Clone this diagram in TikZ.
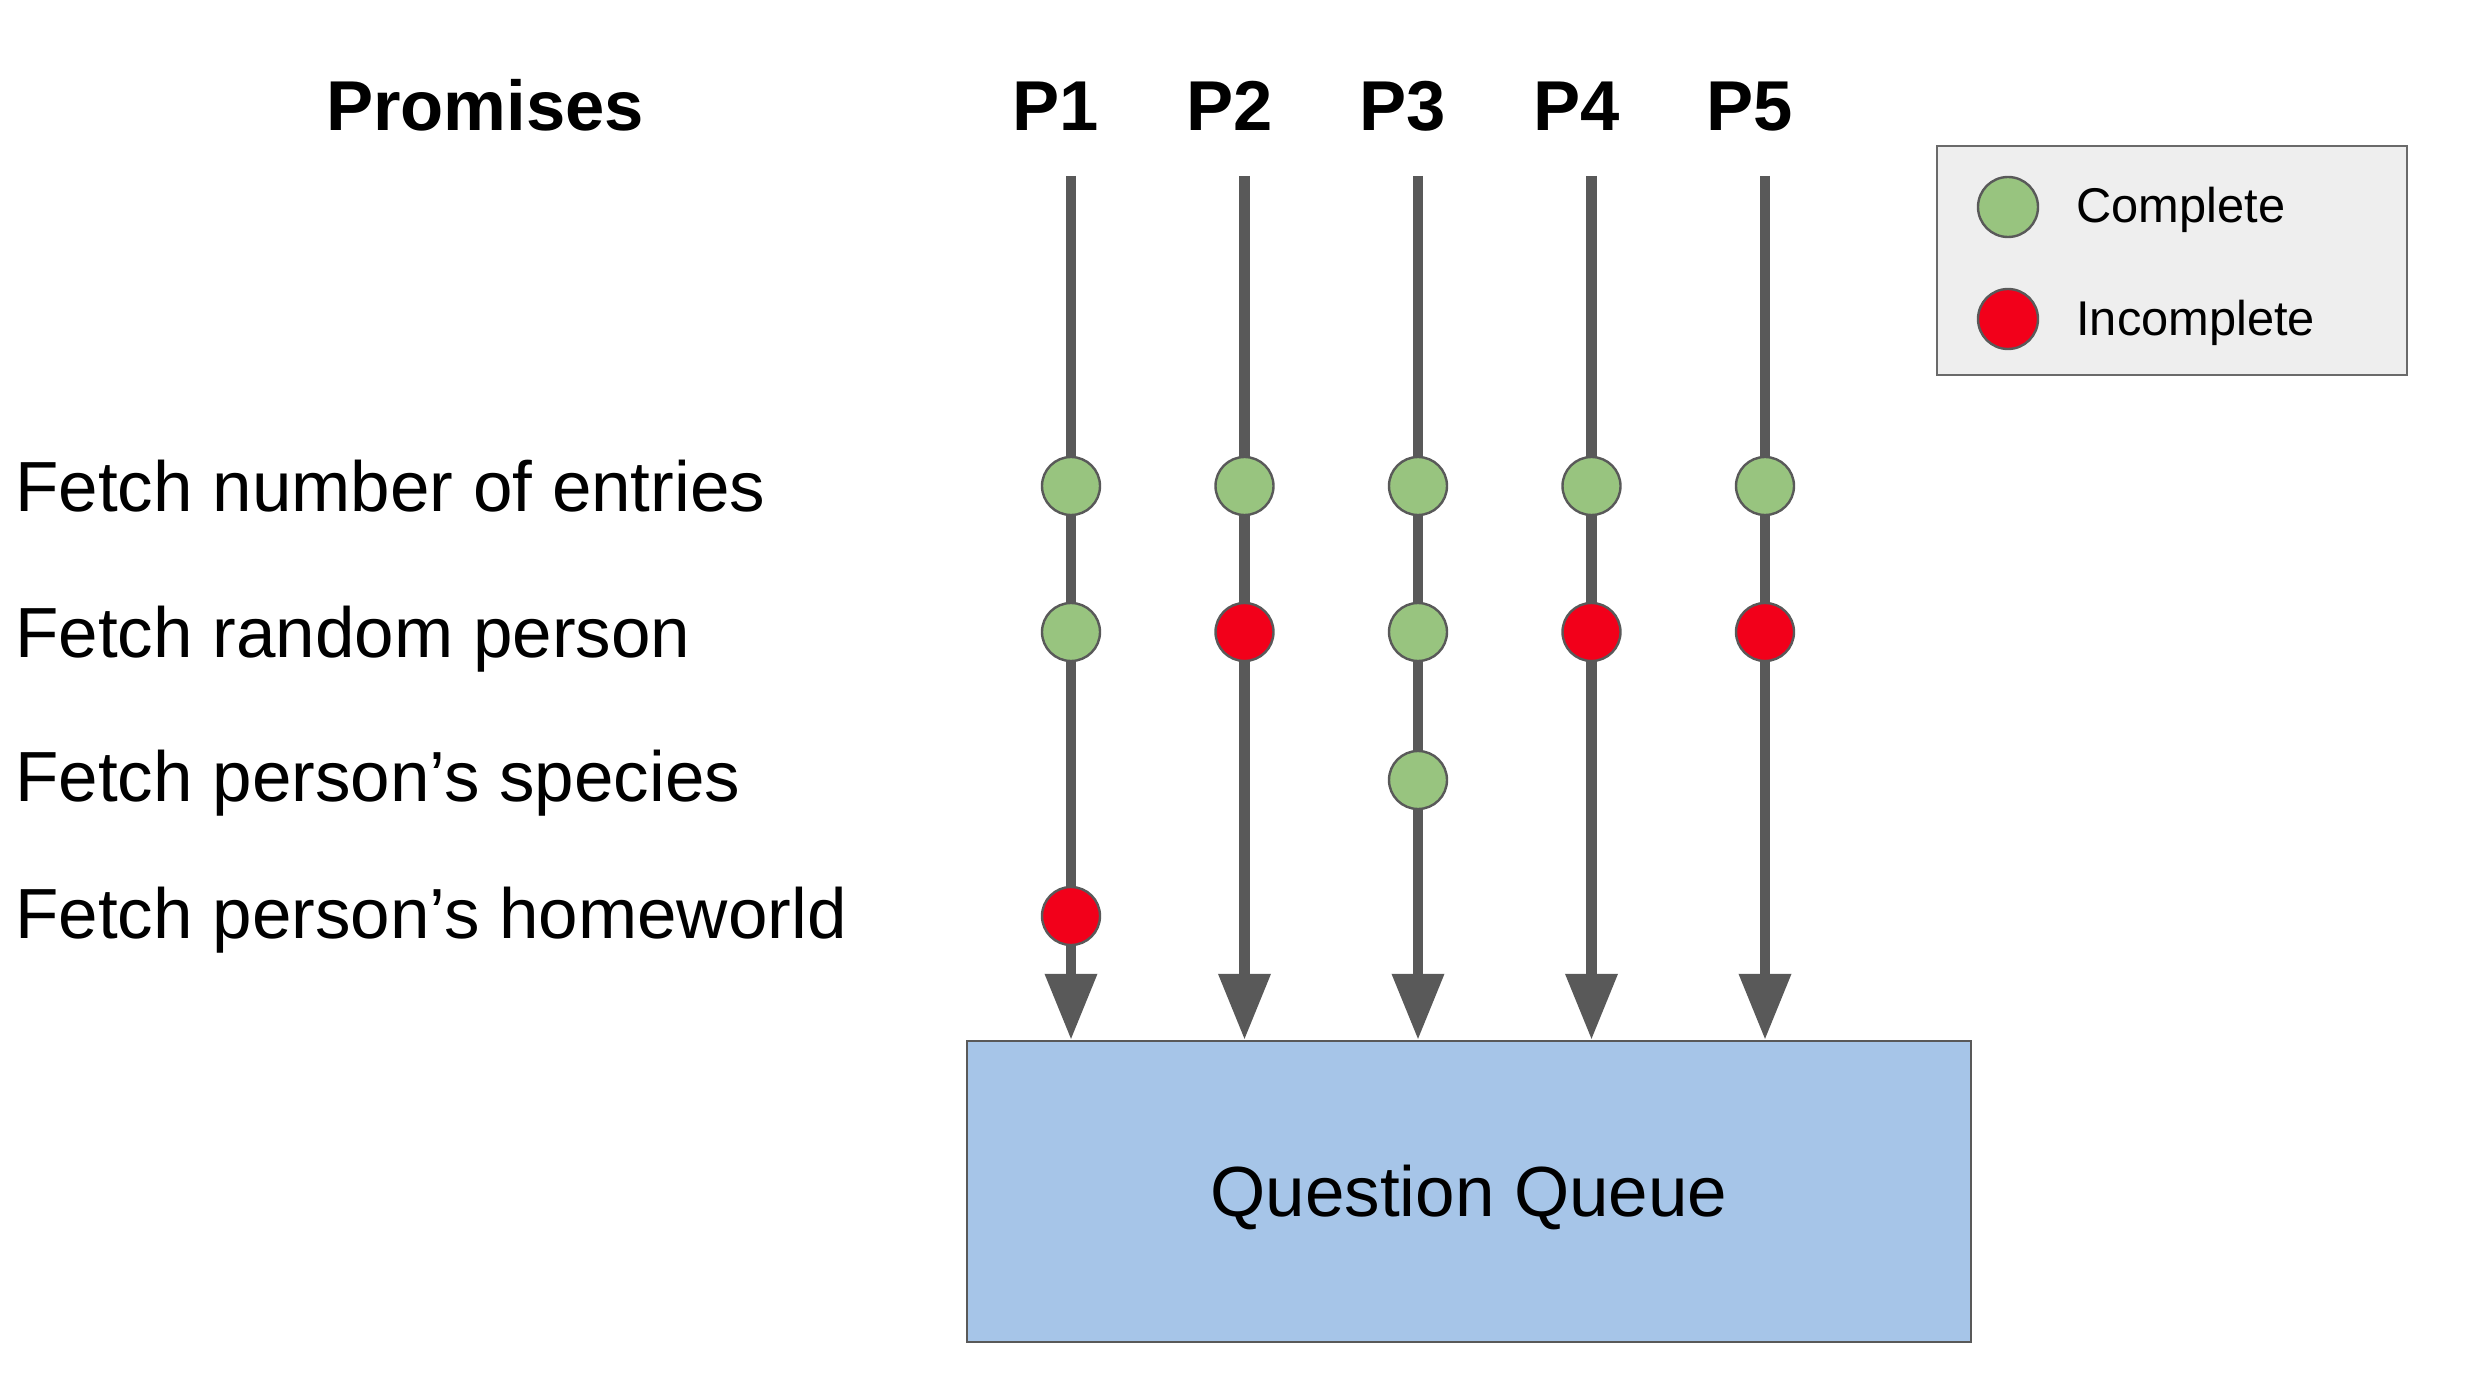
\documentclass[tikz,border=0pt]{standalone}
\usepackage{fontspec}
\setmainfont{Liberation Sans}
\usetikzlibrary{arrows.meta}
\definecolor{lineg}{HTML}{595959}
\definecolor{okgreen}{HTML}{98C47F}
\definecolor{badred}{HTML}{F2001A}
\definecolor{qblue}{HTML}{A6C5E8}
\definecolor{legfill}{HTML}{EEEEEE}
\definecolor{leggray}{HTML}{6A6A6A}
\begin{document}
\begin{tikzpicture}[x=0.5pt,y=-0.5pt,
  lbl/.style={font=\fontsize{35.5pt}{40pt}\selectfont, inner sep=0pt, anchor=base west},
  head/.style={font=\bfseries\fontsize{35.3pt}{40pt}\selectfont, inner sep=0pt, anchor=base},
  leg/.style={font=\fontsize{24.4pt}{28pt}\selectfont, inner sep=0pt, anchor=base west},
  dot/.style={circle, draw=lineg, line width=1.2pt, minimum size=29pt, inner sep=0pt},
  done/.style={dot, fill=okgreen},
  todo/.style={dot, fill=badred},
  flow/.style={draw=lineg, line width=5.2pt, -{Triangle[length=33pt,width=25pt]}},
  queuebox/.style={draw=lineg, line width=1.25pt, fill=qblue, minimum width=502pt, minimum height=150.5pt, inner sep=0pt, font=\fontsize{35.5pt}{40pt}\selectfont, text height=25.4pt, text depth=0pt},
  legbox/.style={draw=leggray, line width=1pt, fill=legfill, minimum width=235pt, minimum height=114.5pt, inner sep=0pt}
]
\useasboundingbox (0,0) rectangle (2470,1374);

% headings
\node[head] (promises) at (485,131) {Promises};
\node[head] (p1) at (1056,131) {P1};
\node[head] (p2) at (1229.5,131) {P2};
\node[head] (p3) at (1403,131) {P3};
\node[head] (p4) at (1576.5,131) {P4};
\node[head] (p5) at (1750,131) {P5};

% row labels
\node[lbl] (r1) at (15,512) {Fetch number of entries};
\node[lbl] (r2) at (15,657) {Fetch random person};
\node[lbl] (r3) at (15,801) {Fetch person’s species};
\node[lbl] (r4) at (15,938) {Fetch person’s homeworld};

% queue box
\node[queuebox] (queue) at (1469,1191.5) {Question Queue};

% line tops
\coordinate (t1) at (1071,176);
\coordinate (t2) at (1244.5,176);
\coordinate (t3) at (1418,176);
\coordinate (t4) at (1591.5,176);
\coordinate (t5) at (1765,176);

\foreach \i in {1,...,5} {
  \draw[flow] (t\i) -- (t\i |- queue.north);
}

% status dots
\node[done] (d11) at (1071,486) {};
\node[done] (d21) at (1244.5,486) {};
\node[done] (d31) at (1418,486) {};
\node[done] (d41) at (1591.5,486) {};
\node[done] (d51) at (1765,486) {};

\node[done] (d12) at (1071,632) {};
\node[todo] (d22) at (1244.5,632) {};
\node[done] (d32) at (1418,632) {};
\node[todo] (d42) at (1591.5,632) {};
\node[todo] (d52) at (1765,632) {};

\node[done] (d33) at (1418,780) {};
\node[todo] (d14) at (1071,916) {};

% legend
\node[legbox] (legend) at (2172,260.5) {};
\node[done, minimum size=30pt] (lg1) at (2008,207) {};
\node[todo, minimum size=30pt] (lg2) at (2008,319) {};
\node[leg] (lt1) at (2076,223) {Complete};
\node[leg] (lt2) at (2076,336) {Incomplete};
\end{tikzpicture}
\end{document}
